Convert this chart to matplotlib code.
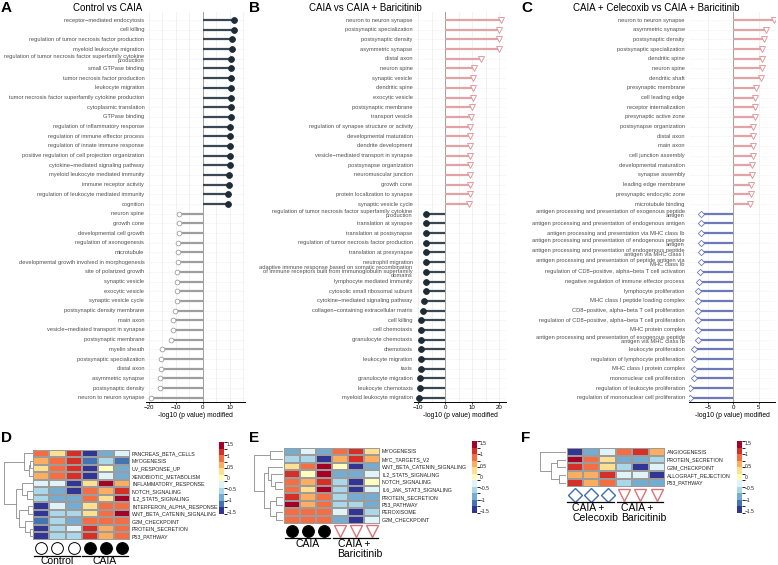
import numpy as np
import matplotlib
matplotlib.use("Agg")
import matplotlib.pyplot as plt
from matplotlib.colors import ListedColormap, BoundaryNorm
from matplotlib.ticker import MultipleLocator

plt.rcParams['font.family'] = ['Liberation Sans', 'DejaVu Sans']
M = "\u2212"

# ---------------- data: lollipop panels ----------------
A_labels = ["receptor" + M + "mediated endocytosis", "cell killing",
            "regulation of tumor necrosis factor production", "myeloid leukocyte migration",
            "regulation of tumor necrosis factor superfamily cytokine\nproduction",
            "small GTPase binding", "tumor necrosis factor production", "leukocyte migration",
            "tumor necrosis factor superfamily cytokine production", "cytoplasmic translation",
            "GTPase binding", "regulation of inflammatory response",
            "regulation of immune effector process", "regulation of innate immune response",
            "positive regulation of cell projection organization",
            "cytokine" + M + "mediated signaling pathway", "myeloid leukocyte mediated immunity",
            "immune receptor activity", "regulation of leukocyte mediated immunity", "cognition",
            "neuron spine", "growth cone", "developmental cell growth", "regulation of axonogenesis",
            "microtubule", "developmental growth involved in morphogenesis",
            "site of polarized growth", "synaptic vesicle", "exocytic vesicle",
            "synaptic vesicle cycle", "postsynaptic density membrane", "main axon",
            "vesicle" + M + "mediated transport in synapse", "postsynaptic membrane", "myelin sheath",
            "postsynaptic specialization", "distal axon", "asymmetric synapse",
            "postsynaptic density", "neuron to neuron synapse"]
A_values = [11.6, 11.6, 10.9, 10.9, 10.6, 10.4, 10.4, 10.4, 10.4, 10.4,
            10.4, 10.1, 10.0, 10.0, 10.0, 10.0, 9.8, 9.8, 9.5, 9.5,
            -8.7, -8.7, -8.9, -9.1, -9.1, -9.1, -9.4, -9.4, -9.4, -9.6,
            -10.1, -10.9, -10.9, -11.8, -15.2, -15.5, -15.5, -15.7, -15.7, -19.1]

B_labels = ["neuron to neuron synapse", "postsynaptic specialization", "postsynaptic density",
            "asymmetric synapse", "distal axon", "neuron spine", "synaptic vesicle",
            "dendritic spine", "exocytic vesicle", "postsynaptic membrane", "transport vesicle",
            "regulation of synapse structure or activity", "developmental maturation",
            "dendrite development", "vesicle" + M + "mediated transport in synapse",
            "postsynapse organization", "neuromuscular junction", "growth cone",
            "protein localization to synapse", "synaptic vesicle cycle",
            "regulation of tumor necrosis factor superfamily cytokine\nproduction",
            "translation at synapse", "translation at postsynapse",
            "regulation of tumor necrosis factor production", "translation at presynapse",
            "neutrophil migration",
            "adaptive immune response based on somatic recombination\nof immune receptors built from immunoglobulin superfamily\ndomains",
            "lymphocyte mediated immunity", "cytosolic small ribosomal subunit",
            "cytokine" + M + "mediated signaling pathway",
            "collagen" + M + "containing extracellular matrix", "cell killing", "cell chemotaxis",
            "granulocyte chemotaxis", "chemotaxis", "leukocyte migration", "taxis",
            "granulocyte migration", "leukocyte chemotaxis", "myeloid leukocyte migration"]
B_values = [20.5, 20.0, 20.0, 20.0, 13.3, 10.7, 10.4, 10.4, 10.4, 9.9,
            9.7, 9.2, 9.2, 9.2, 9.2, 9.2, 9.2, 9.0, 9.0, 8.7,
            -7.0, -7.0, -7.0, -7.0, -7.0, -7.0, -7.2, -7.2, -7.2, -8.0,
            -8.2, -9.0, -9.0, -9.0, -9.0, -9.0, -9.0, -9.2, -9.2, -9.9]

C_labels = ["neuron to neuron synapse", "asymmetric synapse", "postsynaptic density",
            "postsynaptic specialization", "dendritic spine", "neuron spine", "dendritic shaft",
            "presynaptic membrane", "cell leading edge", "receptor internalization",
            "presynaptic active zone", "postsynapse organization", "distal axon", "main axon",
            "cell junction assembly", "developmental maturation", "synapse assembly",
            "leading edge membrane", "presynaptic endocytic zone", "microtubule binding",
            "antigen processing and presentation of exogenous peptide\nantigen",
            "antigen processing and presentation of endogenous antigen",
            "antigen processing and presentation via MHC class Ib",
            "antigen processing and presentation of endogenous peptide\nantigen",
            "antigen processing and presentation of endogenous peptide\nantigen via MHC class I",
            "antigen processing and presentation of peptide antigen via\nMHC class Ib",
            "regulation of CD8" + M + "positive, alpha" + M + "beta T cell activation",
            "negative regulation of immune effector process", "lymphocyte proliferation",
            "MHC class I peptide loading complex",
            "CD8" + M + "positive, alpha" + M + "beta T cell proliferation",
            "regulation of CD8" + M + "positive, alpha" + M + "beta T cell proliferation",
            "MHC protein complex",
            "antigen processing and presentation of exogenous peptide\nantigen via MHC class Ib",
            "leukocyte proliferation", "regulation of lymphocyte proliferation",
            "MHC class I protein complex", "mononuclear cell proliferation",
            "regulation of leukocyte proliferation", "regulation of mononuclear cell proliferation"]
C_values = [8.1, 6.5, 6.1, 5.6, 5.6, 5.6, 5.4, 4.4, 4.3, 4.3,
            4.2, 3.9, 3.8, 3.8, 3.8, 3.7, 3.7, 3.5, 3.4, 3.3,
            -6.4, -6.4, -6.4, -6.4, -6.4, -6.4, -6.5, -6.8, -6.9, -6.9,
            -6.9, -6.9, -6.9, -6.9, -7.7, -7.7, -7.7, -7.7, -8.5, -8.5]

# ---------------- data: heatmaps ----------------
D_rows = ["PANCREAS_BETA_CELLS", "MYOGENESIS", "UV_RESPONSE_UP", "XENOBIOTIC_METABOLISM",
          "INFLAMMATORY_RESPONSE", "NOTCH_SIGNALING", "IL2_STAT5_SIGNALING",
          "INTERFERON_ALPHA_RESPONSE", "WNT_BETA_CATENIN_SIGNALING", "G2M_CHECKPOINT",
          "PROTEIN_SECRETION", "P53_PATHWAY"]
D_z = [[0.8, 0.3, 1.1, -1.4, -0.9, -0.4],
       [0.6, 0.8, 1.1, -1.1, -0.6, -1.2],
       [0.4, 0.8, 1.1, -1.4, 0.0, -1.0],
       [0.6, 0.8, 1.1, -1.4, -0.4, -0.8],
       [-0.4, -0.4, -1.4, 0.4, 1.5, 0.6],
       [-0.5, -0.9, -1.4, 0.8, 0.5, 1.1],
       [-0.6, -0.9, -1.0, 1.0, 0.4, 1.5],
       [-1.4, -0.3, -0.8, 0.4, 1.0, 1.0],
       [-1.4, -0.6, -0.6, 0.4, 0.8, 1.5],
       [-1.1, -0.6, -0.9, 0.8, 0.8, 0.8],
       [-1.4, -0.6, -0.4, 1.1, 0.5, 0.8],
       [-1.4, -0.6, -0.6, 1.1, 0.5, 0.8]]
D_tree = (1.0, (0.3, 0, (0.15, (0.1, 1, 2), 3)),
          (0.6, (0.4, 4, (0.2, 5, 6)), (0.5, (0.17, 7, 8), (0.28, 9, (0.12, 10, 11)))))

E_rows = ["MYOGENESIS", "MYC_TARGETS_V2", "WNT_BETA_CATENIN_SIGNALING", "IL2_STAT5_SIGNALING",
          "NOTCH_SIGNALING", "IL6_JAK_STAT3_SIGNALING", "PROTEIN_SECRETION", "P53_PATHWAY",
          "PEROXISOME", "G2M_CHECKPOINT"]
E_z = [[-1.0, -0.3, -1.0, 0.8, 1.1, 0.4],
       [-0.5, -0.5, -1.4, 0.6, 1.1, 0.6],
       [0.4, 0.8, 1.5, 0.0, -1.4, -0.9],
       [1.1, 0.0, 1.5, -1.0, -1.0, -0.3],
       [0.8, 0.5, 1.1, -0.6, -1.4, -0.1],
       [0.8, 0.3, 1.5, -0.6, -1.4, -0.3],
       [1.1, 0.5, 0.8, -0.7, -1.0, -0.8],
       [1.5, 0.5, 0.8, -0.7, -0.7, -1.0],
       [0.8, 0.8, 0.8, -0.3, -1.4, -0.6],
       [0.8, 0.8, 0.8, -0.8, -1.4, -0.4]]
E_tree = (1.0, (0.47, 0, 1),
          (0.65, (0.53, 2, (0.41, 3, (0.29, 4, 5))), (0.47, (0.24, 6, 7), (0.24, 8, 9))))

F_rows = ["ANGIOGENESIS", "PROTEIN_SECRETION", "G2M_CHECKPOINT", "ALLOGRAFT_REJECTION",
          "P53_PATHWAY"]
F_z = [[-1.4, -0.8, -0.3, 0.8, 1.1, 0.5],
       [1.5, 0.8, 0.3, -0.8, -1.0, -0.6],
       [1.1, 0.8, 0.3, -0.6, -1.4, -0.4],
       [0.5, 0.5, 1.1, -0.4, -0.4, -1.4],
       [1.1, 0.5, 0.8, -0.6, -0.8, -1.0]]
F_tree = (1.0, 0, (0.59, (0.32, 1, 2), (0.27, 3, 4)))

CB_TICKS = [1.5, 1, 0.5, 0, -0.5, -1, -1.5]

W, H = 778, 565
fig = plt.figure(figsize=(W / 100, H / 100), dpi=100)


def rect(l, t, r, b):
    return [l / W, 1 - b / H, (r - l) / W, (b - t) / H]


DARK = dict(line="#3b4853", marker="o", face="#1f2c36", edge="#1f2c36", ms=4.2)
GREY = dict(line="#9e9e9e", marker="o", face="white", edge="#9e9e9e", ms=3.4)
PINK = dict(line="#e3a2a6", marker="v", face="white", edge="#e08d93", ms=4.4)
BLUE = dict(line="#6d79b9", marker="D", face="white", edge="#6d79b9", ms=3.2)


def lollipop(box, labels, values, xlim, xticks, up, down, pad):
    ax = fig.add_axes(rect(*box))
    n = len(labels)
    ax.axvline(0, color="#a0a0a0", lw=0.7, zorder=1)
    for i, v in enumerate(values):
        st = up if v > 0 else down
        ax.plot([0, v], [i, i], color=st["line"], lw=1.6, solid_capstyle="butt", zorder=2)
        ax.plot(v, i, marker=st["marker"], ms=st["ms"], mfc=st["face"], mec=st["edge"],
                mew=0.6, zorder=3)
    ax.set_xlim(xlim)
    ax.set_ylim(n - 1 + 0.44, -0.83)
    ax.set_yticks(np.arange(n))
    ax.set_yticklabels(labels, fontsize=4.15, color="#505050", va="center")
    for t in ax.get_yticklabels():
        t.set_linespacing(0.78)
    ax.tick_params(axis="y", length=0, pad=pad)
    ax.set_xticks(xticks)
    ax.xaxis.set_minor_locator(MultipleLocator(5))
    ax.tick_params(axis="x", labelsize=4.4, length=1.5, width=0.5, pad=1)
    ax.tick_params(axis="x", which="minor", length=0)
    ax.grid(axis="x", which="both", color="#ececec", lw=0.5)
    for i in range(n):
        ax.axhline(i, color="#f2f2f2", lw=0.4, zorder=0)
    ax.set_axisbelow(True)
    for s in ["top", "right", "left"]:
        ax.spines[s].set_visible(False)
    ax.spines["bottom"].set_linewidth(0.7)
    ax.set_xlabel("-log10 (p value) modified", fontsize=4.9, labelpad=1)
    return ax


lollipop((145.7, 12, 245, 402), A_labels, A_values, (-21.1, 15.7), [-20, -10, 0, 10],
         DARK, GREY, 1.0)
lollipop((414, 12, 506, 402), B_labels, B_values, (-11.6, 22.5), [-10, 0, 10, 20],
         PINK, DARK, 1.0)
lollipop((689, 12, 775, 402), C_labels, C_values, (-8.7, 8.2), [-5, 0, 5], PINK, BLUE, 3.0)

fig.text(108 / W, 1 - 8 / H, "Control vs CAIA", fontsize=7, ha="center", va="center")
fig.text(365 / W, 1 - 8 / H, "CAIA vs CAIA + Baricitinib", fontsize=7, ha="center", va="center")
fig.text(656 / W, 1 - 8 / H, "CAIA + Celecoxib vs CAIA + Baricitinib", fontsize=7,
         ha="center", va="center")
for letter, x, y in [("A", 1, 1), ("B", 249, 1), ("C", 521, 1),
                     ("D", 1, 431), ("E", 249, 431), ("F", 521, 431)]:
    fig.text(x / W, 1 - y / H, letter, fontsize=11, fontweight="bold", ha="left", va="top")

# ---------------- heatmaps ----------------
cmap = ListedColormap(plt.get_cmap("RdYlBu_r")(np.linspace(0, 1, 11)))
bounds = np.linspace(-1.6, 1.6, 12)
norm = BoundaryNorm(bounds, cmap.N)


def dendro(ax, tree, n):
    def rec(node):
        if isinstance(node, int):
            return node + 0.5, 0.0
        h, left, right = node
        yl, hl = rec(left)
        yr, hr = rec(right)
        ax.plot([hl, h, h, hr], [yl, yl, yr, yr], color="#8a8a8a", lw=0.6)
        return (yl + yr) / 2, h
    rec(tree)
    ax.set_xlim(tree[0] * 1.01, 0)
    ax.set_ylim(n, 0)
    ax.axis("off")


def heatmap(box, dbox, cbox, rows, z, tree):
    z = np.array(z)
    n = len(rows)
    ax = fig.add_axes(rect(*box))
    ax.pcolormesh(np.arange(7), np.arange(n + 1), z, cmap=cmap, norm=norm,
                  edgecolors="#9c9c9c", linewidth=0.3)
    ax.set_xlim(0, 6)
    ax.set_ylim(n, 0)
    ax.set_xticks([])
    ax.yaxis.tick_right()
    ax.set_yticks(np.arange(n) + 0.5)
    ax.set_yticklabels(rows, fontsize=3.8, color="#222222")
    ax.tick_params(axis="y", length=0, pad=1.5)
    for s in ax.spines.values():
        s.set_visible(False)
    dendro(fig.add_axes(rect(*dbox)), tree, n)
    cax = fig.add_axes(rect(*cbox))
    sm = plt.cm.ScalarMappable(cmap=cmap, norm=norm)
    cb = fig.colorbar(sm, cax=cax, boundaries=bounds, values=(bounds[:-1] + bounds[1:]) / 2)
    cb.outline.set_visible(False)
    cb.set_ticks(CB_TICKS)
    cb.set_ticklabels([("%g" % t).replace("-", M) for t in CB_TICKS])
    cax.tick_params(labelsize=3.6, length=0, pad=2, colors="#222222")
    return box


def groups(box, bottom, sym_y, line_y, text_y, symbols, names):
    ax = fig.add_axes(rect(box[0], box[3], box[2], bottom))
    ax.set_xlim(0, 6)
    ax.set_ylim(bottom, box[3])
    ax.axis("off")
    for g, (st, name) in enumerate(zip(symbols, names)):
        xs = np.arange(3) + 3 * g + 0.5
        ax.plot(xs, [sym_y] * 3, ls="none", marker=st[0], ms=st[1], mfc=st[2], mec=st[3],
                mew=st[4], clip_on=False)
        ax.plot([3 * g + 0.05, 3 * g + 2.9], [line_y, line_y], color="black", lw=0.9,
                clip_on=False)
        if "\n" in name:
            ax.text(3 * g + 0.35, text_y, name, fontsize=7.5, ha="left", va="top",
                    linespacing=0.95)
        else:
            ax.text(3 * g + 1.45, text_y, name, fontsize=7.5, ha="center", va="top")


OPEN_C = ("o", 8.5, "white", "black", 0.7)
FILL_C = ("o", 8.5, "black", "black", 0.7)
TRI = ("v", 9.0, "white", "#d9737b", 1.0)
DIA = ("D", 7.2, "white", "#3f6db3", 1.0)

bD = heatmap((33.3, 449.5, 130, 540), (4, 449.5, 33, 540), (219, 442, 224, 514),
             D_rows, D_z, D_tree)
groups(bD, 565, 548, 555.5, 556.5, [OPEN_C, FILL_C], ["Control", "CAIA"])

bE = heatmap((284, 447.5, 380, 523.5), (254, 447.5, 283, 523.5), (472, 441, 477, 513),
             E_rows, E_z, E_tree)
groups(bE, 565, 531, 537.5, 539.0, [FILL_C, TRI], ["CAIA", "CAIA +\nBaricitinib"])

bF = heatmap((566.5, 448, 665, 486.5), (540, 448, 565.5, 486.5), (737, 441, 742, 513),
             F_rows, F_z, F_tree)
groups(bF, 565, 494.5, 501.5, 503.0, [DIA, TRI], ["CAIA +\nCelecoxib", "CAIA +\nBaricitinib"])

fig.savefig("out.png", dpi=100)
